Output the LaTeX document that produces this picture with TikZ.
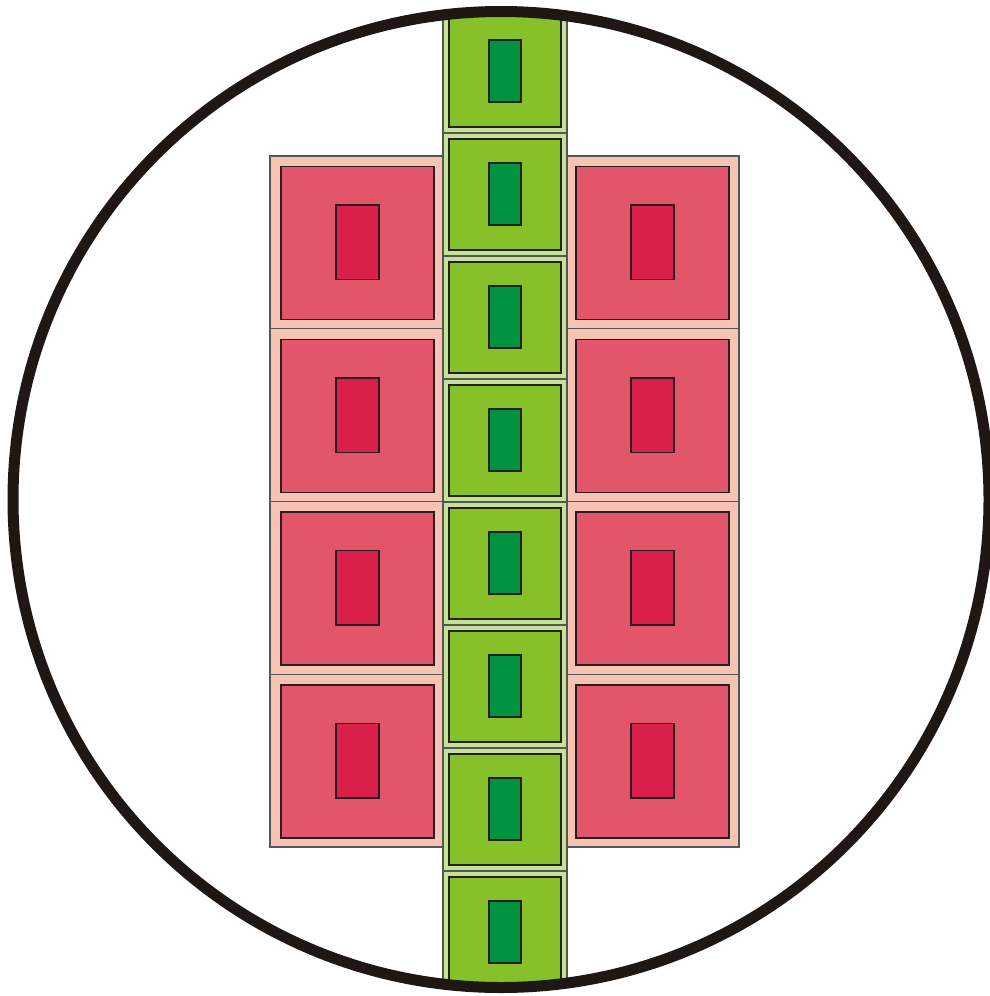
\documentclass[tikz,border=0pt]{standalone}
\definecolor{gOut}{RGB}{196,227,150}
\definecolor{gMid}{RGB}{134,193,42}
\definecolor{gDark}{RGB}{0,146,63}
\definecolor{pOut}{RGB}{247,196,180}
\definecolor{pMid}{RGB}{227,85,106}
\definecolor{pDark}{RGB}{218,32,74}
\definecolor{lineD}{RGB}{40,30,30}
\definecolor{lineG}{RGB}{85,85,85}
\definecolor{ringC}{RGB}{30,23,20}
\tikzset{
  outerbox/.style={draw=lineG,line width=1.2pt},
  innerbox/.style={draw=lineD,line width=1.5pt},
  ring/.style={draw=ringC,line width=11pt}
}
\begin{document}
\begin{tikzpicture}[x=1pt,y=-1pt]
\useasboundingbox (0,0) rectangle (990,996);
\fill[white] (0,0) rectangle (990,996);
% pink tiles
\foreach \j in {0,1,2,3}{
  \pgfmathsetmacro{\T}{156+172.75*\j}
  \pgfmathsetmacro{\B}{\T+172.75}
  \pgfmathsetmacro{\Ia}{\T+10.5}
  \pgfmathsetmacro{\Ib}{\T+163.5}
  \pgfmathsetmacro{\Da}{\T+49}
  \pgfmathsetmacro{\Db}{\T+123.5}
  \path[outerbox,fill=pOut] (270,\T) rectangle (443,\B);
  \path[innerbox,fill=pMid] (281,\Ia) rectangle (434,\Ib);
  \path[innerbox,fill=pDark] (336,\Da) rectangle (379,\Db);
  \path[outerbox,fill=pOut] (567,\T) rectangle (739,\B);
  \path[innerbox,fill=pMid] (576,\Ia) rectangle (729,\Ib);
  \path[innerbox,fill=pDark] (631,\Da) rectangle (674,\Db);
}
% green column
\begin{scope}
\clip (501,499.5) circle (489);
\foreach \k in {0,...,7}{
  \pgfmathsetmacro{\T}{10+123*\k}
  \pgfmathsetmacro{\B}{\T+123}
  \pgfmathsetmacro{\Ia}{\T+6}
  \pgfmathsetmacro{\Ib}{\T+117}
  \pgfmathsetmacro{\Da}{\T+30}
  \pgfmathsetmacro{\Db}{\T+92}
  \path[outerbox,fill=gOut] (443,\T) rectangle (567,\B);
  \path[innerbox,fill=gMid] (449,\Ia) rectangle (561,\Ib);
  \path[innerbox,fill=gDark] (489,\Da) rectangle (521,\Db);
}
\end{scope}
% ring
\draw[ring] (501,499.5) circle (488);
\end{tikzpicture}
\end{document}
